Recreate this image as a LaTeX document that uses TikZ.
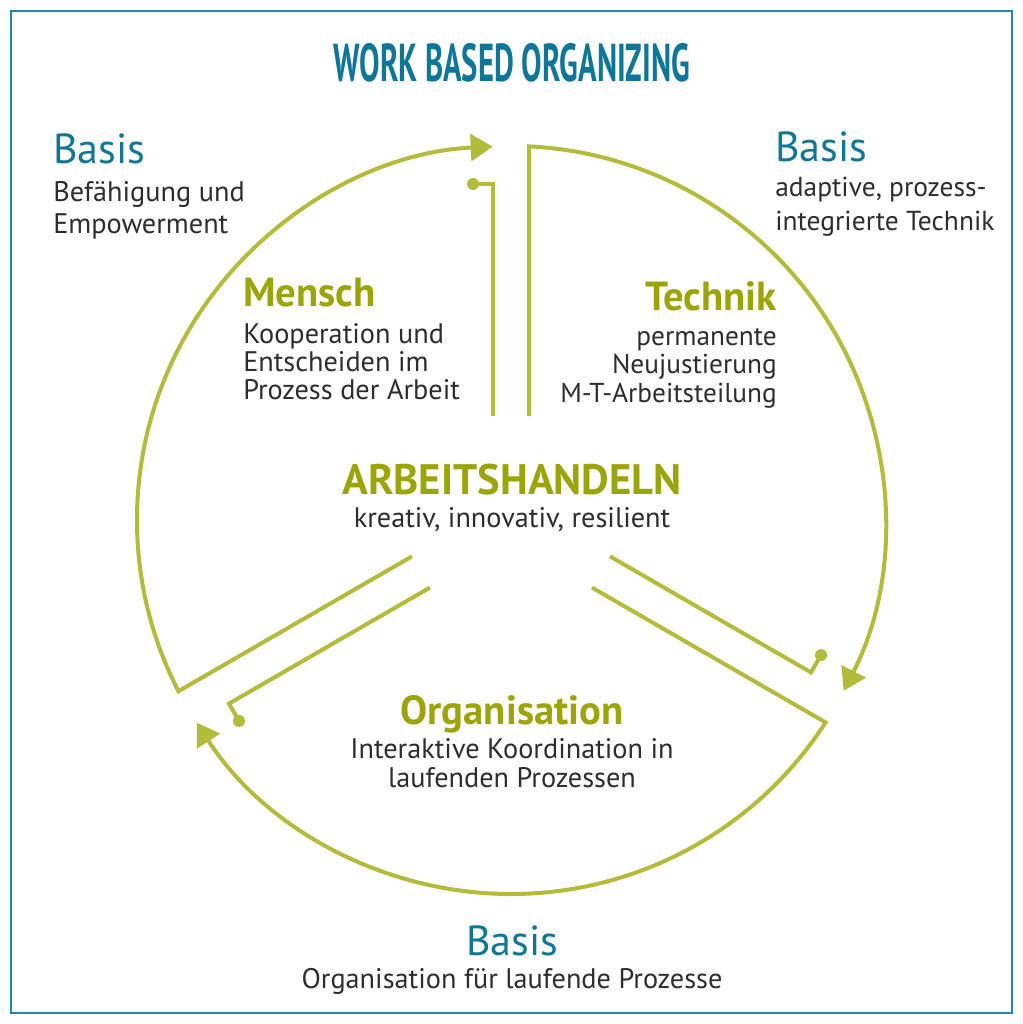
\documentclass[tikz,border=0pt]{standalone}
\usepackage{fontspec}
\setmainfont{PT Sans}
\usetikzlibrary{arrows.meta, calc}
\definecolor{wboblue}{RGB}{14,118,151}
\definecolor{wbogreen}{RGB}{155,165,10}
\definecolor{wboline}{RGB}{178,187,58}
\definecolor{wbotext}{RGB}{45,45,45}
\definecolor{wboframe}{RGB}{30,135,180}
\tikzset{
  basis/.style={text=wboblue, inner sep=0pt, font=\fontsize{31.5}{33}\selectfont},
  head/.style={text=wbogreen, inner sep=0pt, font=\bfseries\fontsize{30.5}{32}\selectfont},
  body/.style={text=wbotext, inner sep=0pt, font=\fontsize{21.2}{21}\selectfont},
  wheel/.style={draw=wboline, line width=3pt},
}
\begin{document}
\begin{tikzpicture}[x=0.75pt,y=0.75pt,yscale=-1,xscale=1]
    \useasboundingbox (0,0) rectangle (1022,1024);

    %Shape: Rectangle [frame]
    \draw [wboframe, line width=1.5pt] (11,11) rectangle (1012,1013);

    \coordinate (ctr) at (511,520);
    %Shape: Wheel [arc with arrow, inner line with dot, one per gap]
    \foreach \g in {-90,30,150} {
        \draw [wheel, -{Triangle[length=16.5pt,width=20pt]}] ($(ctr)+(\g:104)+(\g+90:18)$) -- ($(ctr)+(\g:373.6)+(\g+90:18)$) arc [start angle=\g+2.76, end angle=\g+117.2, radius=374];
        \draw [wheel] ($(ctr)+(\g:104)+(\g-90:18)$) -- ($(ctr)+(\g:336)+(\g-90:18)$) -- ++(\g-90:20) coordinate (dot\g);
        \fill [wboline] (dot\g) circle [radius=6];
    }

    % Text Node
    \node (title) [text=wboblue, inner sep=0pt, anchor=base] at (512,82) {\scalebox{0.575}[1]{\bfseries\fontsize{40}{40}\selectfont WORK BASED ORGANIZING}};
    % Text Node
    \node (basisMensch) [basis, anchor=base west] at (53,163) {Basis};
    % Text Node
    \node (textBasisMensch) [body, anchor=base west, align=left, font=\fontsize{21.2}{23.6}\selectfont] at (53,233) {Befähigung und\\Empowerment};
    % Text Node
    \node (basisTechnik) [basis, anchor=base west] at (775,161) {Basis};
    % Text Node
    \node (textBasisTechnik) [body, anchor=base west, align=left, font=\fontsize{20.6}{25.5}\selectfont] at (775,230) {adaptive, prozess-\\integrierte Technik};
    % Text Node
    \node (mensch) [head, anchor=base west] at (243,306) {Mensch};
    % Text Node
    \node (textMensch) [body, anchor=base west, align=left] at (243,399) {Kooperation und\\Entscheiden im\\Prozess der Arbeit};
    % Text Node
    \node (technik) [head, anchor=base east] at (777,310) {Technik};
    % Text Node
    \node (textTechnik) [body, anchor=base east, align=right, font=\fontsize{20.5}{21.2}\selectfont] at (777,402) {permanente\\Neujustierung\\M-T-Arbeitsteilung};
    % Text Node
    \node (arbeit) [head, anchor=base, font=\bfseries\fontsize{32}{32}\selectfont] at (512,494) {ARBEITSHANDELN};
    % Text Node
    \node (textArbeit) [body, anchor=base] at (512,527) {kreativ, innovativ, resilient};
    % Text Node
    \node (organisation) [head, anchor=base] at (512,724) {Organisation};
    % Text Node
    \node (textOrganisation) [body, anchor=base, align=center, font=\fontsize{21.2}{21.75}\selectfont] at (512,787) {Interaktive Koordination in\\laufenden Prozessen};
    % Text Node
    \node (basisOrga) [basis, anchor=base] at (512,955) {Basis};
    % Text Node
    \node (textBasisOrga) [body, anchor=base] at (512,988) {Organisation für laufende Prozesse};
\end{tikzpicture}
\end{document}
